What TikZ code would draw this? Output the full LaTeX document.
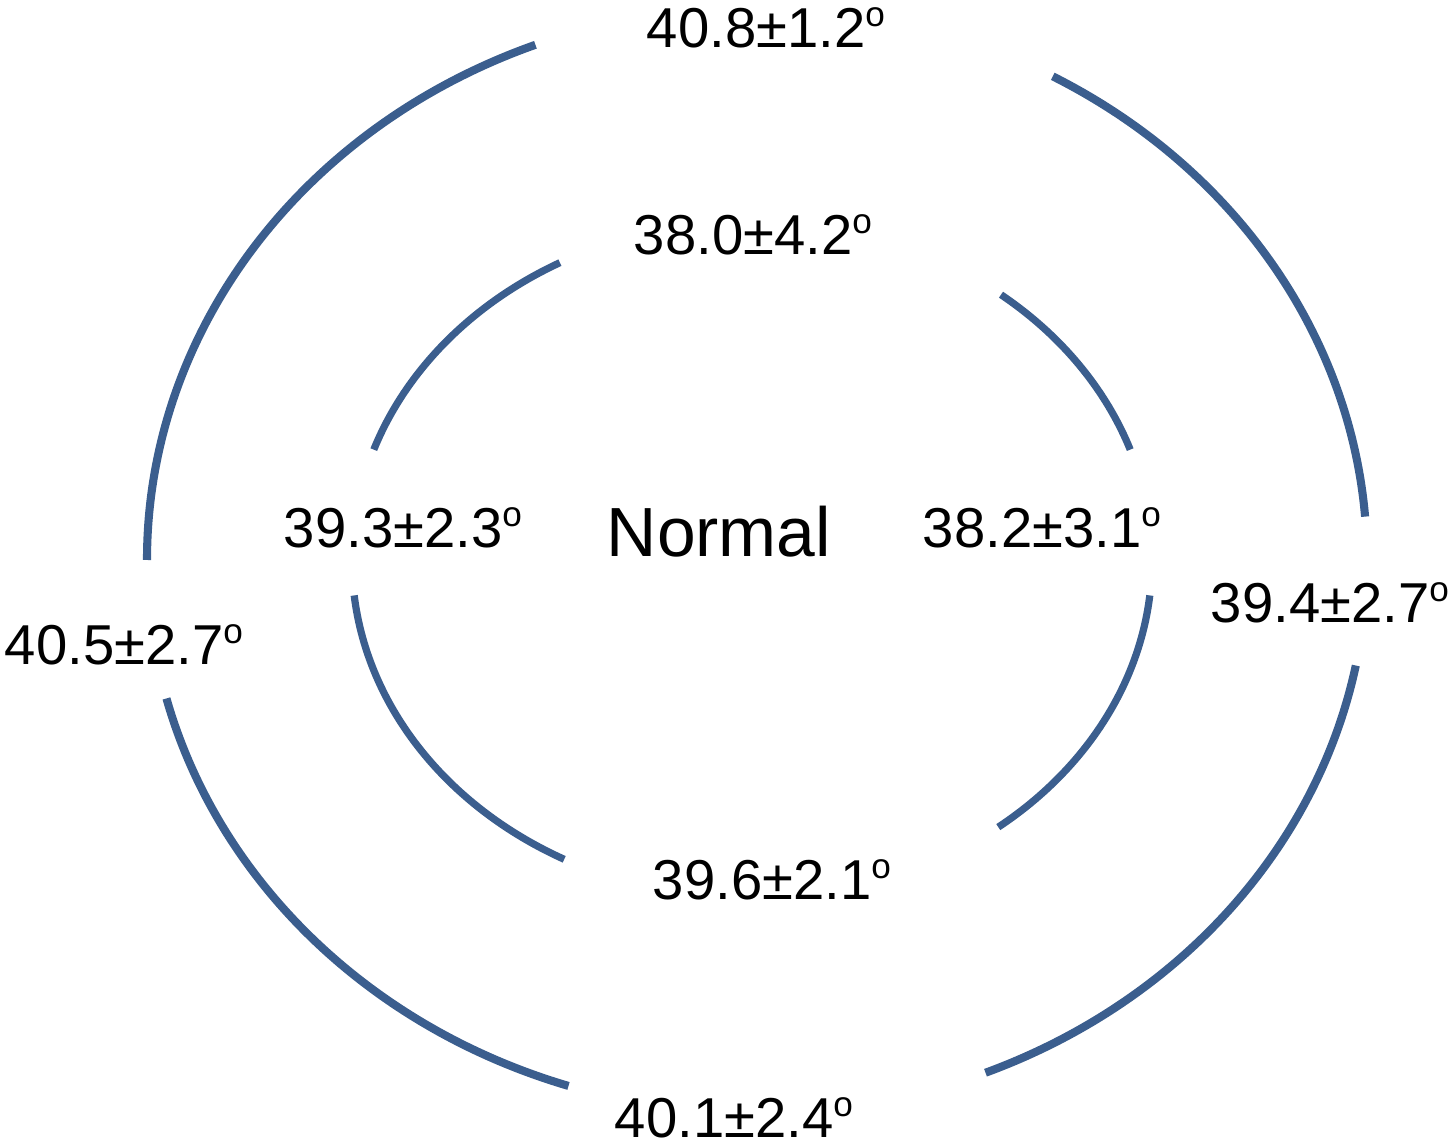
\documentclass[tikz,border=0pt]{standalone}
\usepackage{fontspec}
\setmainfont{Liberation Sans}
\definecolor{arcblue}{RGB}{59,94,142}
\newcommand{\degmark}{\raisebox{12.3pt}{\fontsize{20}{20}\selectfont o}}
\tikzset{
  ring/.style={draw=arcblue, line width=4.6pt},
  innerring/.style={draw=arcblue, line width=4.1pt},
  val/.style={inner sep=0pt, font=\fontsize{32}{38}\selectfont},
  title/.style={inner sep=0pt, font=\fontsize{39.6}{46}\selectfont}
}
\begin{document}
\begin{tikzpicture}
\useasboundingbox (0,0) rectangle (29.06,22.94);
% outer ellipse: centre (15.14,11.74), radii 12.2 x 11.06
\coordinate (oc) at (15.14,11.74);
\coordinate (ic) at (15.04,11.74);
\draw[ring] ([shift={(oc)}]111.3:12.2cm and 11.06cm) arc[start angle=111.3, end angle=180, x radius=12.2cm, y radius=11.06cm];
\draw[ring] ([shift={(oc)}]61:12.2cm and 11.06cm) arc[start angle=61, end angle=4.5, x radius=12.2cm, y radius=11.06cm];
\draw[ring] ([shift={(oc)}]194.5:12.2cm and 11.06cm) arc[start angle=194.5, end angle=252, x radius=12.2cm, y radius=11.06cm];
\draw[ring] ([shift={(oc)}]-11:12.2cm and 11.06cm) arc[start angle=-11, end angle=-68, x radius=12.2cm, y radius=11.06cm];
% inner ellipse: centre (15.04,11.74), radii 8.0 x 6.78
\draw[innerring] ([shift={(ic)}]118.7:8cm and 6.78cm) arc[start angle=118.7, end angle=161, x radius=8cm, y radius=6.78cm];
\draw[innerring] ([shift={(ic)}]51.5:8cm and 6.78cm) arc[start angle=51.5, end angle=19, x radius=8cm, y radius=6.78cm];
\draw[innerring] ([shift={(ic)}]186:8cm and 6.78cm) arc[start angle=186, end angle=242, x radius=8cm, y radius=6.78cm];
\draw[innerring] ([shift={(ic)}]-6:8cm and 6.78cm) arc[start angle=-6, end angle=-52, x radius=8cm, y radius=6.78cm];
% labels
\node[val] (top)    at (15.32,22.38) {40.8±1.2\degmark};
\node[val] (itop)   at (15.06,18.24) {38.0±4.2\degmark};
\node[val] (ileft)  at (8.06,12.38)  {39.3±2.3\degmark};
\node[title] (norm) at (14.38,12.30) {Normal};
\node[val] (iright) at (20.84,12.38) {38.2±3.1\degmark};
\node[val] (right)  at (26.60,10.88) {39.4±2.7\degmark};
\node[val] (left)   at (2.48,10.04)  {40.5±2.7\degmark};
\node[val] (ibot)   at (15.44,5.34)  {39.6±2.1\degmark};
\node[val] (bot)    at (14.68,0.58)  {40.1±2.4\degmark};
\end{tikzpicture}
\end{document}
